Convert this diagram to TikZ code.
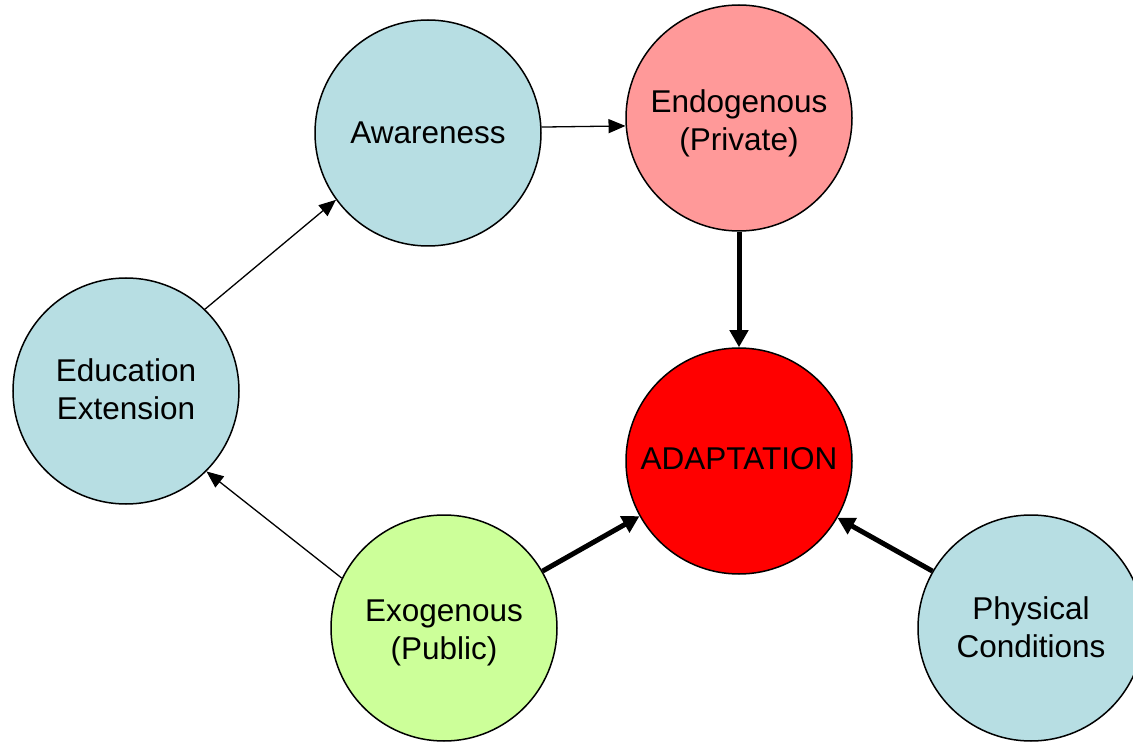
\documentclass[tikz,border=0pt]{standalone}
\usepackage{fontspec}
\setmainfont{Liberation Sans}
\usetikzlibrary{arrows.meta}
\definecolor{lblue}{HTML}{B7DEE3}
\definecolor{lpink}{HTML}{FF9999}
\definecolor{lgreen}{HTML}{CCFF99}
\definecolor{bred}{HTML}{FF0000}
\newcommand\lowtxt[2]{\raisebox{-#1}[\height][\depth]{\begin{tabular}{@{}c@{}}#2\end{tabular}}}
\tikzset{
  circ/.style={circle,draw=black,line width=1.5pt,minimum size=226pt,inner sep=0pt,align=center,font=\fontsize{31.5}{38}\selectfont},
  thinarrow/.style={line width=1.3pt,-{Triangle[length=17pt,width=14pt]}},
  thickarrow/.style={line width=5pt,-{Triangle[length=17pt,width=18pt]}}
}
\begin{document}
\begin{tikzpicture}[x=1pt,y=-1pt]
\useasboundingbox (0,0) rectangle (1133,743);
\clip (0,0) rectangle (1133,743);
\node[circ,fill=lblue] (aw) at (428,133) {\lowtxt{3pt}{Awareness}};
\node[circ,fill=lpink] (endo) at (739,118) {\lowtxt{6pt}{Endogenous\\(Private)}};
\node[circ,fill=lblue] (edu) at (126,391) {\lowtxt{2pt}{Education\\Extension}};
\node[circ,fill=bred] (adapt) at (739,461) {\lowtxt{1pt}{ADAPTATION}};
\node[circ,fill=lgreen] (exo) at (444,628) {\lowtxt{5pt}{Exogenous\\(Public)}};
\node[circ,fill=lblue] (phys) at (1031,628) {\lowtxt{3pt}{Physical\\Conditions}};
\draw[thinarrow] (aw.3.5) -- (endo.184);
\draw[thickarrow] (endo.south) -- (adapt.north);
\draw[thinarrow] (edu.46) -- (aw.216);
\draw[thinarrow] (exo.154) -- (edu.315);
\draw[thickarrow] (exo.30) -- (adapt.209.5);
\draw[thickarrow] (phys.150) -- (adapt.330.5);
\end{tikzpicture}
\end{document}
